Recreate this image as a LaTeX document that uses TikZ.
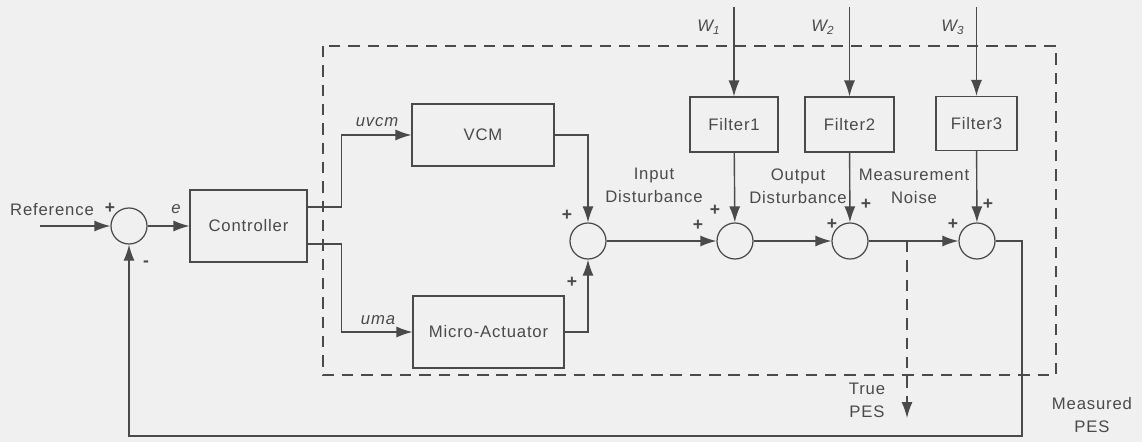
\documentclass[tikz,border=0pt]{standalone}
\usepackage{fontspec}
\setmainfont{Liberation Sans}[LetterSpace=5]
\usetikzlibrary{arrows.meta}
\definecolor{ink}{HTML}{4A4A4A}
\definecolor{paper}{HTML}{F0F0F0}
\begin{document}
\begin{tikzpicture}[x=0.02cm, y=-0.02cm, >={Latex[length=0.32cm,width=0.22cm]},
  color=ink, line width=0.8pt,
  block/.style={draw=ink, line width=0.6pt, inner sep=0pt, text=ink, font=\fontsize{9.5}{11}\selectfont},
  sumnode/.style={circle, draw=ink, line width=0.7pt, minimum size=0.72cm, inner sep=0pt},
  lbl/.style={text=ink, inner sep=0pt, font=\fontsize{9.5}{11}\selectfont},
  sgn/.style={text=ink, inner sep=0pt, font=\fontsize{10}{10}\selectfont\bfseries}]
\fill[paper] (0,0) rectangle (1142,442);
\useasboundingbox (0,0) rectangle (1142,442);
% boundary of the plant
\draw[dashed, dash pattern=on 6.5pt off 4.5pt] (323,46) rectangle (1056,375);
% blocks
\node[block, minimum width=2.34cm, minimum height=1.44cm] (ctrl) at (248.5,226) {Controller};
\node[block, minimum width=2.84cm, minimum height=1.24cm] (vcm) at (483,135) {VCM};
\node[block, minimum width=3.02cm, minimum height=1.44cm] (ma) at (488.5,332) {Micro-Actuator};
\node[block, minimum width=1.76cm, minimum height=1.1cm] (flt1) at (734,124.5) {Filter1};
\node[block, minimum width=1.78cm, minimum height=1.1cm] (flt2) at (849.5,124.5) {Filter2};
\node[block, minimum width=1.62cm, minimum height=1.08cm] (flt3) at (976.5,123.5) {Filter3};
% summing junctions
\node[sumnode] (sum1) at (129,226) {};
\node[sumnode] (sum2) at (588,241) {};
\node[sumnode] (sum3) at (735,241) {};
\node[sumnode] (sum4) at (850,241) {};
\node[sumnode] (sum5) at (977,241) {};
% free ends
\coordinate (ref) at (40,226);
\coordinate (w1) at (734,7);
\coordinate (w2) at (849.5,7);
\coordinate (w3) at (976.5,7);
\coordinate (tp) at (907,241);
\coordinate (tpend) at (907,418);
\coordinate (fb) at (1022,436);
% connectors
\draw[->] (ref) -- (sum1);
\draw[->] (sum1) -- (ctrl);
\draw[->] ([yshift=0.38cm]ctrl.east) -- ++(34,0) |- (vcm);
\draw[->] ([yshift=-0.36cm]ctrl.east) -- ++(34,0) |- (ma);
\draw[->] (vcm) -| (sum2);
\draw[->] (ma) -| (sum2);
\draw[->] (sum2) -- (sum3);
\draw[->] (sum3) -- (sum4);
\draw[->] (sum4) -- (sum5);
\draw[->] (w1) -- (flt1);
\draw[->] (w2) -- (flt2);
\draw[->] (w3) -- (flt3);
\draw[->] (flt1) -- (sum3);
\draw[->] (flt2) -- (sum4);
\draw[->] (flt3) -- (sum5);
\draw[->] (sum5) -| (fb) -| (sum1);
\draw[->, dashed, dash pattern=on 6.5pt off 4.5pt] (tp) -- (tpend);
% labels
\node[lbl] (reflbl) at (52,210) {Reference};
\node[lbl] (elbl) at (176,209) {\itshape e};
\node[lbl] (uvcm) at (377,122) {\itshape uvcm};
\node[lbl] (uma) at (378,320) {\itshape uma};
\node[lbl] (w1lbl) at (709,27) {\itshape W\textsubscript{1}};
\node[lbl] (w2lbl) at (823,27) {\itshape W\textsubscript{2}};
\node[lbl] (w3lbl) at (953,27) {\itshape W\textsubscript{3}};
\node[lbl, align=center] (indist) at (654,185) {Input\\[2pt]Disturbance};
\node[lbl, align=center] (outdist) at (798,186) {Output\\[2pt]Disturbance};
\node[lbl, align=center] (noise) at (914,186) {Measurement\\[2pt]Noise};
\node[lbl, align=center] (truepes) at (867,400) {True\\[2pt]PES};
\node[lbl, align=center] (measpes) at (1092,415) {Measured\\[2pt]PES};
% signs
\node[sgn] (s1a) at (110,208) {+};
\node[sgn] (s1b) at (146,264) {-};
\node[sgn] (s2a) at (567,215) {+};
\node[sgn] (s2b) at (572,282) {+};
\node[sgn] (s3a) at (698,225) {+};
\node[sgn] (s3b) at (715,210) {+};
\node[sgn] (s4a) at (832,224) {+};
\node[sgn] (s4b) at (866,204) {+};
\node[sgn] (s5a) at (953,224) {+};
\node[sgn] (s5b) at (988,204) {+};
\end{tikzpicture}
\end{document}
